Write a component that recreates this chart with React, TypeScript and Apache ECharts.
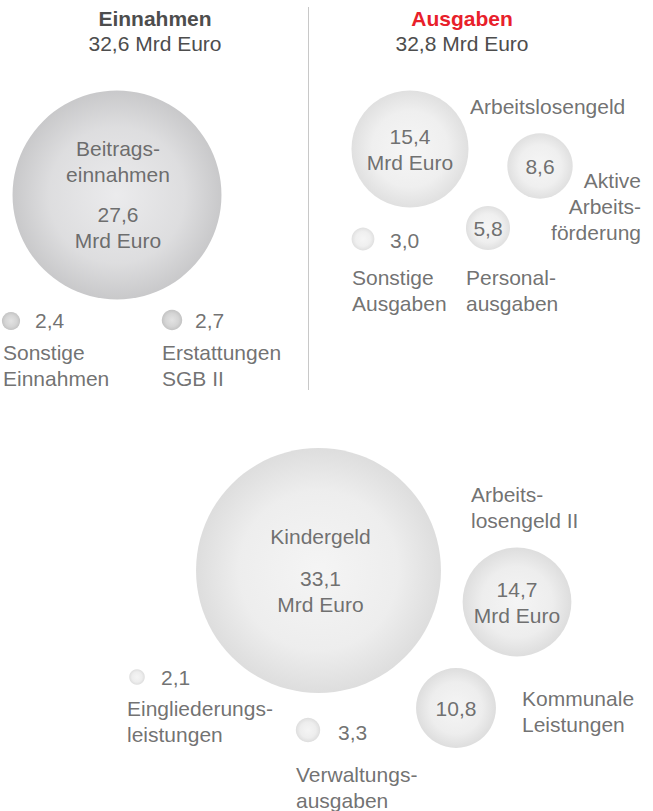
import React, { useEffect, useRef } from 'react';
import * as echarts from 'echarts';

// ---- data ----
const incomeTitle = 'Einnahmen';
const incomeTotal = '32,6 Mrd Euro';
const expenseTitle = 'Ausgaben';
const expenseTotal = '32,8 Mrd Euro';

const incomeCategories = ['Beitrags-\neinnahmen', 'Sonstige\nEinnahmen', 'Erstattungen\nSGB II'];
const incomeValues = [27.6, 2.4, 2.7];

const expenseCategories = ['Arbeitslosengeld', 'Aktive\nArbeits-\nförderung', 'Personal-\nausgaben', 'Sonstige\nAusgaben'];
const expenseValues = [15.4, 8.6, 5.8, 3.0];

const federalCategories = ['Kindergeld', 'Arbeits-\nlosengeld II', 'Kommunale\nLeistungen', 'Verwaltungs-\nausgaben', 'Eingliederungs-\nleistungen'];
const federalValues = [33.1, 14.7, 10.8, 3.3, 2.1];

const unitLabel = 'Mrd Euro';

// ---- layout (positions of the bubble centres and label placement) ----
type Place = { x: number; y: number; v: any; n: any };
const incomeLayout: Place[] = [
  { x: 117, y: 195, v: 'nameInsideTop', n: null },
  { x: 11, y: 321, v: [24, -1], n: [-8, 44, 'left'] },
  { x: 172, y: 320, v: [23, 0], n: [-10, 45, 'left'] },
];
const expenseLayout: Place[] = [
  { x: 410, y: 149, v: 'unit', n: [60, -43, 'left'] },
  { x: 540, y: 166, v: 'inside', n: [101, 40, 'right'] },
  { x: 488, y: 228, v: 'inside', n: [-22, 62, 'left'] },
  { x: 363, y: 239, v: [27, 1], n: [-11, 51, 'left'] },
];
const federalLayout: Place[] = [
  { x: 318.5, y: 570.5, v: 'nameInsideKinder', n: null },
  { x: 517, y: 602, v: 'unit', n: [-46, -95, 'left'] },
  { x: 456, y: 708, v: 'inside', n: [66, 3, 'left'] },
  { x: 308, y: 730, v: [30, 2], n: [-12, 57, 'left'] },
  { x: 137, y: 677, v: [24, 0], n: [-10, 44, 'left'] },
];

const FONT = '"Liberation Sans", Arial, Helvetica, sans-serif';
const TEXT = '#4d4d4d';
const FS = 21;
const LH = 26;

const fmt = (v: number) => v.toFixed(1).replace('.', ',');

function valueLabel(place: Place, name: string, value: number) {
  const base: any = { show: true, color: TEXT, fontFamily: FONT, fontSize: FS, lineHeight: LH };
  const rich = {
    t: { color: TEXT, fontFamily: FONT, fontSize: FS, lineHeight: LH },
    g: { fontSize: 8, lineHeight: 14 },
    g2: { fontSize: 8, lineHeight: 16 },
  };
  if (place.v === 'nameInsideTop') {
    const lines = name.split('\n');
    return {
      ...base, position: 'inside', rich, offset: [1, -1],
      formatter: `{t|${lines[0]}}\n{t|${lines[1]}}\n{g| }\n{t|${fmt(value)}}\n{t|${unitLabel}}`,
    };
  }
  if (place.v === 'nameInsideKinder') {
    return {
      ...base, position: 'inside', rich, offset: [2, 0],
      formatter: `{t|${name}}\n{g2| }\n{t|${fmt(value)}}\n{t|${unitLabel}}`,
    };
  }
  if (place.v === 'unit') {
    return { ...base, position: 'inside', formatter: `${fmt(value)}\n${unitLabel}` };
  }
  if (place.v === 'inside') {
    return { ...base, position: 'inside', formatter: fmt(value) };
  }
  return { ...base, position: 'inside', align: 'left', offset: place.v, formatter: fmt(value) };
}

function nameLabel(place: Place, name: string) {
  if (!place.n) return { show: false };
  const [dx, dy, align] = place.n;
  return {
    show: true, position: 'inside', align, offset: [dx, dy], formatter: name,
    color: TEXT, fontFamily: FONT, fontSize: FS, lineHeight: LH,
  };
}

function grad(inner: string, mid: string, outer: string) {
  return new echarts.graphic.RadialGradient(0.5, 0.5, 0.5, [
    { offset: 0, color: inner },
    { offset: 0.65, color: mid },
    { offset: 1, color: outer },
  ]);
}

function buildSeries(
  id: string,
  categories: string[],
  values: number[],
  layout: Place[],
  scale: number,
  colors: (i: number) => any,
) {
  const bubbles = values.map((v, i) => ({
    name: categories[i],
    value: [layout[i].x, layout[i].y, v],
    itemStyle: { color: colors(i) },
    label: valueLabel(layout[i], categories[i], v),
  }));
  const names = values.map((v, i) => ({
    name: categories[i],
    value: [layout[i].x, layout[i].y, v],
    label: nameLabel(layout[i], categories[i]),
  }));
  return [
    {
      id: id + '-bubbles', type: 'scatter', data: bubbles,
      symbolSize: (d: number[]) => d[2] * scale,
      silent: true, z: 2,
    },
    {
      id: id + '-names', type: 'scatter', data: names,
      symbolSize: (d: number[]) => d[2] * scale,
      itemStyle: { color: 'rgba(0,0,0,0)' },
      silent: true, z: 3,
    },
  ];
}

export default function App() {
  const ref = useRef<HTMLDivElement>(null);
  useEffect(() => {
    if (!ref.current) return;
    const chart = echarts.init(ref.current, null, { renderer: 'svg' });
    const incomeColor = (i: number) =>
      i === 0 ? grad('#e6e6e8', '#d5d5d7', '#bbbbbd') : grad('#dcdcdc', '#cacaca', '#b4b4b4');
    const expenseColor = () => grad('#f3f3f3', '#ebebeb', '#d8d8d8');
    const federalColor = () => grad('#f2f2f2', '#e9e9e9', '#d5d5d5');
    chart.setOption({
      animation: false,
      grid: { left: 0, right: 0, top: 0, bottom: 0 },
      xAxis: { type: 'value', min: 0, max: 653, show: false },
      yAxis: { type: 'value', min: 0, max: 811, inverse: true, show: false },
      series: [
        ...buildSeries('income', incomeCategories, incomeValues, incomeLayout, 7.57, incomeColor),
        ...buildSeries('expense', expenseCategories, expenseValues, expenseLayout, 7.6, expenseColor),
        ...buildSeries('federal', federalCategories, federalValues, federalLayout, 7.4, federalColor),
      ],
      graphic: [
        {
          type: 'text', x: 155, y: 18,
          style: { text: incomeTitle, fill: TEXT, font: `bold ${FS}px ${FONT}`, align: 'center', verticalAlign: 'middle' },
        },
        {
          type: 'text', x: 155, y: 43,
          style: { text: incomeTotal, fill: TEXT, font: `${FS}px ${FONT}`, align: 'center', verticalAlign: 'middle' },
        },
        {
          type: 'text', x: 462, y: 18,
          style: { text: expenseTitle, fill: '#e8202a', font: `bold ${FS}px ${FONT}`, align: 'center', verticalAlign: 'middle' },
        },
        {
          type: 'text', x: 462, y: 43,
          style: { text: expenseTotal, fill: TEXT, font: `${FS}px ${FONT}`, align: 'center', verticalAlign: 'middle' },
        },
        {
          type: 'line', shape: { x1: 308.5, y1: 7, x2: 308.5, y2: 390 },
          style: { stroke: '#c8c8c8', lineWidth: 1 },
        },
      ],
    });
    return () => chart.dispose();
  }, []);
  return <div ref={ref} style={{ position: 'absolute', left: 0, top: 0, width: 653, height: 811 }} />;
}
